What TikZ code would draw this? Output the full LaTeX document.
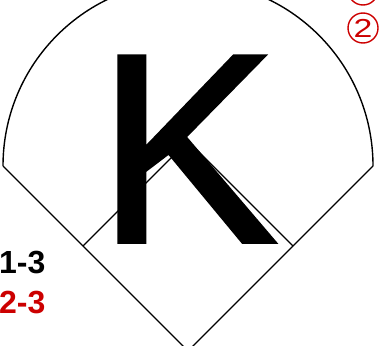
\documentclass[tikz,border=0pt]{standalone}
\usepackage{fontspec}
\setmainfont{Liberation Sans}
\newfontfamily\bigkfont[FakeBold=1.4]{Liberation Sans}
\definecolor{scorered}{RGB}{204,0,0}
\tikzset{
  fieldline/.style={draw=black, line width=1.4pt},
  countlabel/.style={anchor=base west, inner sep=0pt, font=\bfseries\fontsize{32}{32}\selectfont},
  circnum/.style={circle, draw=scorered, line width=1.4pt, minimum size=30pt, inner sep=0pt, text=scorered, font=\fontsize{26}{26}\selectfont}
}
\begin{document}
\begin{tikzpicture}[x=1pt,y=-1pt]
\useasboundingbox (0,0) rectangle (382,345);
\coordinate (home) at (188,351);
\coordinate (first) at (293,246);
\coordinate (second) at (188,141);
\coordinate (third) at (83,246);
\coordinate (lf) at (3,166);
\coordinate (rf) at (373,166);
\draw[fieldline] (lf) -- (home) -- (rf);
\draw[fieldline] (lf) arc[start angle=180, end angle=360, radius=185];
\draw[fieldline] (third) -- (second) -- (first);
\node[anchor=base west, inner sep=0pt, font=\bigkfont\fontsize{270}{270}\selectfont] (k) at (97,242) {K};
\node[countlabel] (balls) at (-1,273) {1-3};
\node[countlabel, text=scorered] (strikes) at (-1,313) {2-3};
\node[circnum] (c1) at (363,-10) {\scalebox{1.3}[1]{1}};
\node[circnum] (c2) at (363,28) {\scalebox{1.3}[1]{2}};
\end{tikzpicture}
\end{document}
